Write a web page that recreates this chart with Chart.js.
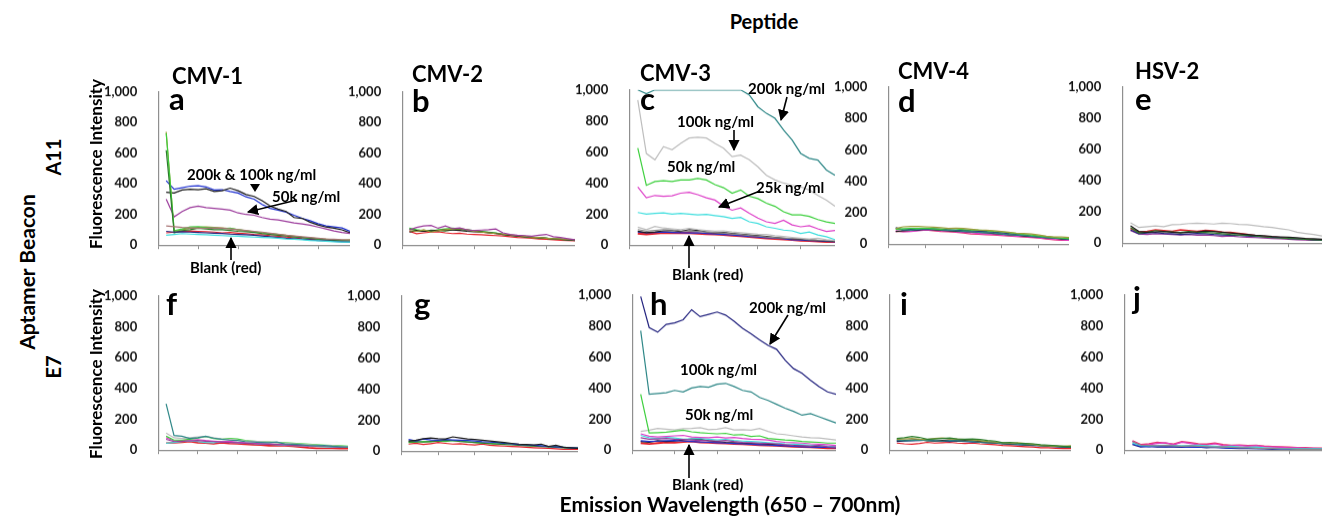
<!DOCTYPE html>
<html>
<head>
<meta charset="utf-8">
<script src="https://cdn.jsdelivr.net/npm/chart.js@4.4.1/dist/chart.umd.min.js"></script>
<style>
body { margin: 0; background: #fff; }
#fig { position: relative; width: 1326px; height: 520px; overflow: hidden; font-family: Lato, 'Open Sans', sans-serif; font-weight: 700; color: #000; }
#fig canvas { position: absolute; }
.t { position: absolute; white-space: nowrap; line-height: 1; }
#arrows { position: absolute; left: 0; top: 0; }
</style>
</head>
<body>
<div id="fig"></div>
<script>
// x categories: emission wavelength (nm); first slot left empty like the original plots
const wavelengths = [650, 652, 654, 656, 658, 660, 662, 664, 666, 668, 670, 672, 674, 676, 678, 680, 682, 684, 686, 688, 690, 692, 694, 696, 698];
const xTickIdx = [0, 5, 10, 15, 20];
const yTicks = [0, 200, 400, 600, 800, 1000];

// a: CMV-1 / A11
const a_olive   = [740, 90, 100, 110, 115, 118, 115, 112, 108, 100, 92, 88, 80, 75, 70, 65, 58, 52, 48, 42, 38, 35, 32, 35];
const a_green   = [730, 95, 105, 118, 120, 115, 112, 108, 110, 100, 95, 85, 80, 75, 70, 62, 55, 50, 45, 40, 35, 32, 30, 30];
const a_dkgreen = [620, 80, 95, 100, 110, 105, 100, 100, 95, 90, 88, 82, 75, 70, 65, 60, 55, 50, 45, 40, 35, 32, 30, 28];
const a_brown   = [125, 120, 115, 112, 110, 110, 112, 110, 105, 100, 95, 90, 85, 78, 72, 65, 60, 55, 50, 45, 40, 38, 35, 33];
const a_cyan    = [65, 70, 75, 72, 70, 68, 65, 62, 60, 58, 55, 52, 50, 48, 45, 40, 38, 35, 30, 28, 25, 22, 20, 20];
const a_dark    = [90, 85, 88, 85, 82, 80, 78, 76, 72, 70, 68, 65, 60, 55, 50, 45, 42, 38, 35, 30, 28, 25, 22, 20];
const a_red     = [80, 85, 90, 92, 90, 88, 85, 80, 82, 78, 75, 70, 68, 62, 58, 52, 48, 42, 38, 35, 30, 28, 25, 25];
const a_purple  = [300, 185, 220, 245, 255, 245, 240, 235, 228, 210, 200, 195, 180, 170, 165, 155, 145, 138, 130, 118, 105, 92, 82, 76];
const a_black   = [345, 340, 360, 365, 362, 368, 350, 355, 372, 355, 330, 318, 290, 255, 235, 220, 180, 175, 150, 132, 118, 110, 100, 80];
const a_blue    = [420, 365, 375, 385, 388, 380, 360, 362, 350, 340, 315, 300, 265, 240, 228, 215, 195, 175, 160, 140, 125, 118, 112, 90];

// b: CMV-2 / A11
const b_purple  = [100, 115, 125, 128, 110, 125, 108, 112, 100, 95, 98, 100, 105, 80, 70, 65, 62, 58, 65, 70, 55, 50, 42, 35];
const b_green   = [110, 100, 95, 90, 100, 105, 110, 105, 100, 95, 90, 85, 80, 70, 65, 60, 55, 50, 48, 45, 40, 38, 35, 32];
const b_olive   = [95, 90, 100, 85, 95, 100, 105, 108, 100, 90, 85, 80, 75, 72, 68, 62, 58, 52, 50, 45, 42, 40, 38, 35];
const b_black   = [85, 95, 90, 92, 95, 100, 98, 95, 90, 88, 85, 80, 75, 70, 65, 60, 55, 52, 48, 45, 40, 38, 35, 32];
const b_dkgreen = [105, 95, 90, 98, 95, 92, 100, 105, 95, 92, 88, 82, 78, 72, 65, 62, 58, 52, 48, 45, 42, 38, 35, 30];
const b_red     = [90, 75, 80, 85, 88, 80, 75, 78, 72, 70, 68, 65, 62, 60, 55, 50, 48, 45, 40, 38, 35, 32, 30, 28];

// c: CMV-3 / A11
const c_teal    = [1000, 975, 1000, 1000, 1000, 1000, 1000, 1000, 1000, 1000, 1000, 1000, 1000, 968, 892, 849, 817, 742, 677, 591, 559, 548, 484, 450];
const c_grey    = [935, 590, 550, 635, 615, 655, 690, 695, 690, 655, 625, 570, 580, 550, 505, 450, 420, 400, 385, 375, 355, 320, 290, 250];
const c_green   = [625, 385, 410, 415, 410, 420, 420, 430, 420, 390, 370, 335, 355, 315, 300, 270, 250, 215, 195, 195, 185, 165, 150, 140];
const c_magenta = [375, 305, 320, 315, 318, 335, 340, 325, 305, 290, 250, 225, 240, 205, 175, 150, 140, 160, 130, 118, 125, 105, 88, 95];
const c_cyan    = [210, 200, 205, 208, 200, 205, 200, 195, 198, 190, 183, 172, 178, 150, 140, 118, 108, 97, 92, 75, 85, 65, 54, 35];
const c_ltgrey  = [115, 100, 120, 110, 105, 100, 108, 100, 95, 90, 92, 85, 80, 75, 70, 68, 60, 55, 50, 45, 40, 45, 35, 30];
const c_grey2   = [100, 90, 95, 100, 98, 92, 90, 88, 85, 82, 78, 72, 68, 62, 58, 52, 48, 45, 42, 40, 35, 32, 30, 28];
const c_black   = [90, 80, 85, 92, 95, 88, 100, 95, 85, 80, 82, 75, 70, 65, 60, 55, 50, 45, 40, 38, 35, 30, 28, 25];
const c_blue    = [85, 80, 82, 85, 82, 80, 78, 80, 75, 72, 68, 65, 60, 55, 52, 48, 45, 40, 35, 32, 30, 28, 25, 22];
const c_red     = [75, 70, 75, 80, 78, 80, 78, 75, 72, 70, 68, 62, 60, 55, 50, 45, 42, 38, 35, 30, 28, 25, 22, 22];

// d: CMV-4 / A11
const d_olive   = [100, 110, 112, 112, 110, 108, 105, 100, 102, 100, 95, 90, 88, 85, 80, 75, 70, 68, 65, 58, 50, 45, 45, 42];
const d_green   = [95, 98, 100, 100, 102, 98, 95, 100, 98, 92, 90, 88, 85, 80, 78, 72, 68, 62, 58, 52, 48, 42, 38, 35];
const d_navy    = [105, 90, 95, 92, 100, 98, 95, 92, 88, 90, 85, 82, 80, 75, 72, 68, 62, 58, 52, 48, 45, 40, 35, 32];
const d_teal    = [100, 92, 88, 95, 98, 95, 90, 88, 85, 82, 78, 75, 72, 70, 65, 60, 58, 55, 50, 45, 42, 38, 35, 32];
const d_black   = [80, 85, 88, 90, 95, 92, 88, 85, 82, 80, 78, 75, 72, 68, 65, 60, 58, 52, 48, 45, 40, 38, 32, 30];
const d_magenta = [85, 78, 80, 85, 90, 88, 85, 82, 78, 75, 72, 68, 65, 62, 58, 55, 50, 48, 45, 40, 35, 30, 28, 25];
const d_red     = [80, 80, 82, 88, 90, 85, 80, 78, 75, 70, 65, 62, 60, 58, 55, 52, 48, 45, 42, 38, 32, 28, 25, 25];

// e: HSV-2 / A11
const e_grey    = [130, 100, 105, 110, 105, 118, 120, 125, 128, 125, 122, 128, 125, 120, 118, 112, 105, 100, 92, 85, 70, 62, 55, 45];
const e_black   = [110, 75, 70, 72, 75, 70, 65, 70, 72, 78, 75, 70, 65, 60, 55, 50, 48, 42, 40, 38, 35, 30, 28, 25];
const e_green   = [100, 65, 70, 80, 75, 72, 68, 75, 70, 68, 65, 60, 55, 52, 50, 45, 40, 35, 32, 30, 28, 25, 22, 20];
const e_navy    = [85, 60, 65, 68, 62, 60, 55, 58, 62, 60, 55, 52, 50, 48, 45, 42, 40, 38, 35, 30, 28, 25, 22, 20];
const e_purple  = [80, 58, 55, 60, 58, 55, 52, 55, 50, 52, 48, 42, 45, 40, 38, 35, 32, 30, 28, 25, 22, 20, 18, 18];
const e_red     = [95, 70, 75, 85, 80, 75, 85, 80, 75, 82, 78, 70, 68, 62, 55, 48, 42, 40, 35, 30, 28, 25, 22, 20];

// f: CMV-1 / E7
const f_teal    = [300, 95, 90, 75, 80, 90, 78, 70, 65, 62, 55, 52, 50, 48, 52, 40, 38, 35, 30, 28, 30, 25, 22, 20];
const f_grey    = [110, 80, 75, 80, 85, 88, 80, 72, 70, 65, 60, 58, 55, 52, 48, 45, 42, 38, 35, 32, 30, 28, 25, 22];
const f_green   = [90, 65, 65, 70, 78, 88, 75, 70, 75, 72, 62, 58, 55, 52, 50, 48, 45, 42, 38, 35, 32, 30, 28, 25];
const f_purple  = [70, 55, 58, 60, 62, 58, 55, 52, 50, 48, 45, 42, 40, 38, 36, 34, 32, 30, 28, 30, 25, 22, 20, 18];
const f_magenta = [80, 60, 62, 65, 68, 62, 58, 55, 58, 52, 48, 45, 42, 40, 38, 35, 32, 30, 28, 32, 28, 25, 22, 20];
const f_cyan    = [45, 50, 55, 60, 55, 50, 48, 55, 52, 50, 45, 42, 40, 38, 35, 32, 30, 28, 28, 25, 22, 20, 18, 18];
const f_red     = [45, 48, 50, 55, 48, 45, 40, 48, 42, 40, 38, 35, 32, 28, 30, 28, 25, 20, 15, 12, 12, 12, 10, 10];

// g: CMV-2 / E7
const g_black   = [65, 70, 80, 85, 80, 78, 92, 85, 78, 75, 70, 65, 60, 55, 50, 45, 42, 40, 45, 30, 38, 25, 22, 18];
const g_blue    = [75, 65, 78, 72, 70, 75, 72, 70, 68, 65, 60, 58, 55, 50, 48, 42, 40, 38, 35, 30, 28, 25, 22, 20];
const g_dkgreen = [60, 62, 58, 62, 65, 70, 68, 62, 58, 55, 52, 48, 45, 42, 40, 38, 35, 32, 30, 28, 25, 22, 20, 18];
const g_green   = [55, 58, 62, 60, 65, 62, 68, 65, 60, 55, 52, 50, 48, 52, 45, 40, 38, 35, 32, 30, 28, 25, 22, 20];
const g_red     = [45, 50, 42, 48, 55, 50, 45, 48, 42, 40, 45, 38, 35, 32, 30, 28, 25, 22, 20, 18, 15, 12, 12, 12];

// h: CMV-3 / E7
const h_navy    = [990, 790, 760, 810, 820, 840, 905, 860, 875, 890, 870, 830, 785, 750, 710, 675, 650, 580, 525, 495, 450, 410, 375, 360];
const h_teal    = [770, 360, 365, 370, 385, 375, 400, 410, 405, 425, 430, 410, 385, 375, 340, 320, 295, 270, 250, 225, 235, 215, 195, 175];
const h_green   = [360, 110, 112, 115, 122, 128, 118, 112, 108, 105, 108, 97, 100, 88, 92, 75, 70, 65, 62, 55, 52, 50, 45, 45];
const h_grey    = [120, 128, 140, 135, 130, 138, 140, 145, 132, 135, 145, 130, 132, 128, 140, 120, 105, 100, 92, 85, 80, 78, 72, 65];
const h_magenta = [105, 90, 85, 88, 92, 95, 85, 82, 80, 85, 78, 82, 75, 70, 68, 65, 55, 50, 48, 45, 40, 38, 35, 30];
const h_purple  = [80, 70, 72, 75, 70, 68, 65, 62, 60, 58, 62, 55, 50, 48, 45, 42, 40, 35, 30, 28, 25, 30, 22, 20];
const h_cyan    = [95, 80, 75, 82, 78, 70, 72, 75, 70, 65, 68, 62, 58, 55, 52, 48, 45, 40, 38, 35, 32, 30, 25, 22];
const h_blue    = [60, 55, 58, 60, 62, 58, 55, 52, 50, 48, 45, 42, 40, 38, 35, 32, 30, 28, 25, 22, 20, 18, 18, 15];
const h_black   = [55, 50, 60, 55, 58, 65, 72, 70, 60, 55, 50, 48, 45, 42, 40, 38, 35, 32, 30, 28, 25, 22, 20, 18];
const h_red     = [45, 40, 45, 50, 48, 52, 55, 50, 48, 45, 42, 40, 38, 35, 32, 30, 28, 25, 22, 20, 18, 15, 12, 12];

// i: CMV-4 / E7
const i_green   = [75, 80, 88, 82, 70, 72, 75, 78, 72, 70, 72, 68, 62, 58, 48, 50, 45, 42, 40, 35, 32, 28, 25, 22];
const i_olive   = [70, 72, 75, 70, 68, 75, 78, 72, 70, 68, 65, 60, 55, 52, 48, 45, 48, 42, 38, 30, 28, 25, 25, 28];
const i_teal    = [65, 60, 62, 65, 62, 60, 58, 62, 60, 58, 55, 50, 48, 45, 42, 40, 38, 35, 32, 30, 28, 25, 22, 20];
const i_black   = [60, 62, 65, 68, 60, 58, 62, 65, 60, 62, 60, 55, 50, 48, 42, 40, 38, 35, 32, 30, 28, 25, 22, 20];
const i_navy    = [55, 58, 60, 62, 65, 60, 58, 55, 58, 55, 52, 50, 48, 45, 40, 38, 35, 32, 30, 28, 25, 22, 20, 18];
const i_red     = [45, 40, 38, 42, 50, 45, 48, 50, 45, 42, 45, 40, 38, 35, 30, 28, 25, 22, 20, 15, 15, 12, 10, 10];

// j: HSV-2 / E7
const j_black   = [55, 32, 30, 28, 30, 28, 25, 28, 25, 22, 20, 22, 18, 15, 15, 12, 10, 10, 8, 8, 5, 5, 5, 5];
const j_cyan    = [45, 30, 28, 30, 32, 30, 28, 30, 32, 28, 25, 22, 25, 20, 18, 20, 15, 12, 10, 10, 8, 8, 8, 8];
const j_blue    = [40, 25, 22, 25, 22, 25, 22, 20, 18, 20, 18, 15, 12, 15, 12, 10, 10, 8, 5, 5, 5, 5, 5, 5];
const j_navy    = [35, 20, 25, 20, 22, 20, 18, 22, 20, 15, 18, 15, 12, 10, 12, 10, 8, 5, 5, 5, 5, 5, 5, 5];
const j_magenta = [55, 30, 35, 42, 48, 35, 50, 42, 35, 32, 40, 30, 28, 30, 25, 28, 22, 20, 18, 15, 15, 12, 12, 10];
const j_red     = [60, 35, 40, 50, 45, 38, 55, 48, 40, 38, 45, 35, 30, 32, 28, 30, 25, 22, 20, 18, 15, 15, 12, 12];

const COL = {
    navy: '#22227e', blue: '#1d2fd0', black: '#1a1a1a', purple: '#9b3a9b', green: '#3ccf3c',
    dkgreen: '#2c7d2c', olive: '#9c9c3a', red: '#e5202a', cyan: '#3fdede', magenta: '#dd3fc8',
    grey: '#bdbdbd', grey2: '#8a8a8a', teal: '#2e8787', brown: '#a87474', pink: '#e8306e'
};
const AXIS = '#8f8f8f';

// chart area of each panel: [left, top(=1000), right, bottom(=0)]
const panels = [
    { box: [158, 92, 350, 245], series: [[a_brown, COL.brown], [a_cyan, COL.cyan], [a_dark, COL.navy], [a_dkgreen, COL.dkgreen], [a_green, COL.green], [a_olive, COL.olive], [a_red, COL.red], [a_purple, COL.purple], [a_black, COL.black], [a_blue, COL.blue]] },
    { box: [402, 92, 575, 245], series: [[b_purple, COL.purple], [b_olive, COL.olive], [b_black, COL.black], [b_dkgreen, COL.dkgreen], [b_green, COL.green], [b_red, COL.red]] },
    { box: [629, 90, 835, 245], series: [[c_teal, COL.teal], [c_grey, COL.grey], [c_green, COL.green], [c_magenta, COL.magenta], [c_cyan, COL.cyan], [c_ltgrey, COL.grey], [c_grey2, COL.grey2], [c_black, COL.black], [c_blue, COL.blue], [c_red, COL.red, 2.4]] },
    { box: [888, 87, 1069, 244], series: [[d_olive, COL.olive], [d_green, COL.green], [d_teal, COL.teal], [d_navy, COL.navy], [d_black, COL.black], [d_magenta, COL.magenta], [d_red, COL.pink]] },
    { box: [1122, 87, 1322, 243], series: [[e_grey, COL.grey], [e_black, COL.black], [e_green, COL.dkgreen], [e_navy, COL.navy], [e_purple, COL.purple], [e_red, COL.red, 1.6]] },
    { box: [158, 296, 348, 450], series: [[f_teal, COL.teal], [f_grey, COL.grey], [f_green, COL.green], [f_purple, COL.purple], [f_magenta, COL.magenta], [f_cyan, COL.cyan], [f_red, COL.red, 1.6]] },
    { box: [401, 296, 578, 451], series: [[g_black, COL.black], [g_blue, COL.blue], [g_dkgreen, COL.dkgreen], [g_green, COL.green], [g_red, COL.red]] },
    { box: [632, 295, 836, 450], series: [[h_navy, COL.navy], [h_teal, COL.teal], [h_green, COL.green], [h_grey, COL.grey], [h_magenta, COL.magenta], [h_purple, COL.purple], [h_cyan, COL.cyan], [h_blue, COL.blue], [h_black, COL.black], [h_red, COL.red, 1.8]] },
    { box: [889, 295, 1071, 450], series: [[i_green, COL.dkgreen], [i_olive, COL.olive], [i_teal, COL.teal], [i_black, COL.black], [i_navy, COL.navy], [i_red, COL.red]] },
    { box: [1124, 295, 1322, 450], series: [[j_black, COL.grey2], [j_cyan, COL.cyan], [j_blue, COL.blue], [j_navy, COL.navy], [j_magenta, COL.magenta], [j_red, COL.pink, 1.6]] }
];

const fig = document.getElementById('fig');

function makeChart(canvas, p, w, h) {
    canvas.width = w;
    canvas.height = h;
    canvas.style.width = w + 'px';
    canvas.style.height = h + 'px';
    return new Chart(canvas, {
        type: 'line',
        data: {
            labels: wavelengths,
            datasets: p.series.map(([vals, color, width]) => ({
                data: [null, ...vals],
                borderColor: color,
                borderWidth: width || 1.2,
                pointRadius: 0,
                fill: false,
                tension: 0
            }))
        },
        options: {
            responsive: false,
            maintainAspectRatio: false,
            animation: false,
            events: [],
            layout: { padding: 0 },
            plugins: { legend: { display: false }, tooltip: { enabled: false } },
            scales: {
                x: {
                    afterBuildTicks: s => { s.ticks = xTickIdx.map(v => ({ value: v })); },
                    ticks: { display: false },
                    grid: { drawOnChartArea: false, tickLength: 4, color: AXIS },
                    border: { color: AXIS, width: 1.2 }
                },
                y: {
                    min: 0,
                    max: 1000,
                    afterBuildTicks: s => { s.ticks = yTicks.map(v => ({ value: v })); },
                    ticks: { padding: 13, color: '#111', font: { family: 'Lato', weight: 'bold', size: 13 } },
                    grid: { display: false },
                    border: { display: true, color: AXIS, width: 1.2 }
                }
            }
        }
    });
}

panels.forEach(p => {
    const [l, t, r, b] = p.box;
    const canvas = document.createElement('canvas');
    fig.appendChild(canvas);
    // first pass to measure the space Chart.js keeps round the plot area
    let w = r - l + 80, h = b - t + 40;
    let chart = makeChart(canvas, p, w, h);
    let ca = chart.chartArea;
    const inL = ca.left, inT = ca.top, inR = w - ca.right, inB = h - ca.bottom;
    chart.destroy();
    w = r - l + inL + inR;
    h = b - t + inT + inB;
    chart = makeChart(canvas, p, w, h);
    ca = chart.chartArea;
    canvas.style.left = (l - ca.left) + 'px';
    canvas.style.top = (t - ca.top) + 'px';
});

// text: [string, x, baseline, size, align]
const texts = [
    ['Peptide', 764, 29, 20, 'center'],
    ['CMV-1', 172, 85, 22, 'left'],
    ['CMV-2', 412, 83, 22, 'left'],
    ['CMV-3', 640, 82, 22, 'left'],
    ['CMV-4', 898, 80, 22, 'left'],
    ['HSV-2', 1135, 80, 22, 'left'],
    ['a', 169, 110, 31, 'left'], ['b', 412, 112, 31, 'left'], ['c', 640, 110, 31, 'left'],
    ['d', 898, 112, 31, 'left'], ['e', 1135, 110, 31, 'left'],
    ['f', 166, 315, 31, 'left'], ['g', 414, 315, 31, 'left'], ['h', 650, 315, 31, 'left'],
    ['i', 900, 315, 31, 'left'], ['j', 1133, 309, 31, 'left'],
    ['200k & 100k ng/ml', 187, 180, 15, 'left'],
    ['50k ng/ml', 272, 202, 15, 'left'],
    ['Blank (red)', 190, 273, 15, 'left'],
    ['200k ng/ml', 748, 94, 15, 'left'],
    ['100k ng/ml', 677, 127, 15, 'left'],
    ['50k ng/ml', 667, 172, 15, 'left'],
    ['25k ng/ml', 756, 193, 15, 'left'],
    ['Blank (red)', 672, 280, 15, 'left'],
    ['200k ng/ml', 749, 313, 15, 'left'],
    ['100k ng/ml', 680, 375, 15, 'left'],
    ['50k ng/ml', 685, 420, 15, 'left'],
    ['Blank (red)', 672, 490, 15, 'left'],
    ['Emission Wavelength (650 \u2013 700nm)', 730, 512, 21, 'center']
];
texts.forEach(([s, x, y, size, align]) => {
    const d = document.createElement('div');
    d.className = 't';
    d.textContent = s;
    d.style.fontSize = size + 'px';
    d.style.top = (y - 0.887 * size) + 'px';
    d.style.left = x + 'px';
    if (align === 'center') d.style.transform = 'translateX(-50%)';
    fig.appendChild(d);
});

// rotated titles: [string, centerX, centerY, size]
const vtexts = [
    ['Fluorescence Intensity', 95, 164, 17],
    ['Fluorescence Intensity', 95, 374, 17],
    ['Aptamer Beacon', 26, 272, 21],
    ['A11', 53, 157, 20],
    ['E7', 53, 367, 20]
];
vtexts.forEach(([s, x, y, size]) => {
    const d = document.createElement('div');
    d.className = 't';
    d.textContent = s;
    d.style.fontSize = size + 'px';
    d.style.left = x + 'px';
    d.style.top = y + 'px';
    d.style.transform = 'translate(-50%,-50%) rotate(-90deg)';
    fig.appendChild(d);
});

// annotation arrows: [x1, y1, x2(tip), y2(tip)]
const arrows = [
    [297, 200, 248, 212], [231, 260, 231, 238],
    [787, 97, 781, 120], [734, 130, 734, 150], [760, 191, 719, 207], [689, 268, 689, 236],
    [788, 315, 770, 344], [689, 478, 689, 445]
];
const NS = 'http://www.w3.org/2000/svg';
const svg = document.createElementNS(NS, 'svg');
svg.setAttribute('id', 'arrows');
svg.setAttribute('width', 1326);
svg.setAttribute('height', 520);
svg.innerHTML = '<defs><marker id="head" viewBox="0 0 10 10" refX="9" refY="5" markerWidth="7" markerHeight="7" orient="auto"><path d="M0,0 L10,5 L0,10 z" fill="#000"/></marker></defs>';
arrows.forEach(([x1, y1, x2, y2]) => {
    const ln = document.createElementNS(NS, 'line');
    ln.setAttribute('x1', x1); ln.setAttribute('y1', y1);
    ln.setAttribute('x2', x2); ln.setAttribute('y2', y2);
    ln.setAttribute('stroke', '#000');
    ln.setAttribute('stroke-width', 1.6);
    ln.setAttribute('marker-end', 'url(#head)');
    svg.appendChild(ln);
});
// small down triangle under "200k & 100k"
const tri = document.createElementNS(NS, 'path');
tri.setAttribute('d', 'M250,184 L260,184 L255,192 z');
tri.setAttribute('fill', '#000');
svg.appendChild(tri);
fig.appendChild(svg);
</script>
</body>
</html>
